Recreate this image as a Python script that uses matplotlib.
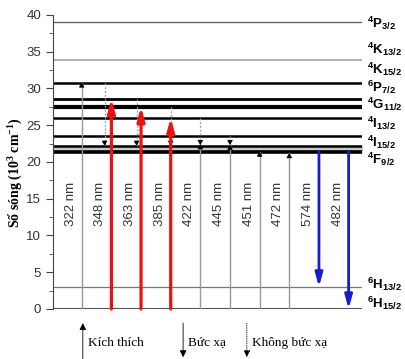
import matplotlib
matplotlib.use('Agg')
import matplotlib.pyplot as plt

plt.rcParams['mathtext.fontset'] = 'custom'
plt.rcParams['mathtext.rm'] = 'Liberation Serif:bold'
plt.rcParams['mathtext.sf'] = 'Liberation Sans:bold'

# energy levels of Dy3+ (10^3 cm^-1)
level_names = [r'$\mathsf{^4P_{3/2}}$', r'$\mathsf{^4K_{13/2}}$', r'$\mathsf{^4K_{15/2}}$',
               r'$\mathsf{^6P_{7/2}}$', r'$\mathsf{^4G_{11/2}}$', r'$\mathsf{^4I_{13/2}}$',
               r'$\mathsf{^4I_{15/2}}$', r'$\mathsf{^4F_{9/2}}$',
               r'$\mathsf{^6H_{13/2}}$', r'$\mathsf{^6H_{15/2}}$']
level_values = [39.0, 33.9, 30.8, 28.6, 27.5, 26.0, 23.5, 22.2, 21.4, 3.0, 0.0]

# transitions
wavelengths = ['322 nm', '348 nm', '363 nm', '385 nm', '422 nm',
               '445 nm', '451 nm', '472 nm', '574 nm', '482 nm']
kinds = ['exc', 'red', 'red', 'red', 'exc', 'exc', 'exc', 'exc', 'emi', 'emi']
starts = [0, 0, 0, 0, 0, 0, 0, 0, 21.4, 21.4]
ends = [30.8, 28.6, 27.5, 26.0, 22.4, 22.3, 21.4, 21.2, 3.0, 0.0]

# non radiative relaxation: (transition index, from level, to level)
nr_index = [1, 2, 3, 4, 5]
nr_from = [30.8, 28.6, 27.5, 26.0, 23.5]
nr_to = [22.2, 22.2, 22.2, 22.3, 22.3]

# styles
lvl_colors = ['#666666', '#aaaaaa', 'k', 'k', 'k', 'k', 'k', 'k', 'k', '#777777', '#555555']
lvl_widths = [1.0, 1.3, 1.8, 2.0, 3.0, 1.8, 1.8, 1.8, 2.6, 0.9, 1.5]
label_y = [38.9, 35.3, 32.6, 30.1, 27.8, 25.3, 22.6, 20.3, 3.3, 0.8]
nr_offset = [-0.23, -0.15, 0, 0, 0]

fig = plt.figure(figsize=(4.06, 3.59), dpi=100)
ax = fig.add_axes([0.1305, 0.1393, 0.761, 0.8193])
ax.set_xlim(-0.97, 9.45)
ax.set_ylim(0, 40)

ax.fill_between([-0.97, 9.45], level_values[8], level_values[7], color='#c8c8c8', zorder=1)
for v, c, w in zip(level_values, lvl_colors, lvl_widths):
    ax.axhline(v, color=c, lw=w, zorder=2)

small = dict(arrowstyle='-|>,head_length=0.5,head_width=0.3', color='k', lw=0.8,
             mutation_scale=5, shrinkA=0, shrinkB=0)

for i, (lab, k, s, e) in enumerate(zip(wavelengths, kinds, starts, ends)):
    ax.text(i - 0.37, 14.3, lab, rotation=90, ha='center', va='center',
            fontsize=9.5, family='Liberation Sans', color='#333333')
    if k == 'exc':
        ax.plot([i, i], [s, e], color='#999999', lw=1.0, zorder=3)
        ax.annotate('', xy=(i, e), xytext=(i, e - 0.6), arrowprops=small, zorder=5)
    elif k == 'red':
        ax.annotate('', xy=(i, e), xytext=(i, s),
                    arrowprops=dict(arrowstyle='-|>,head_length=0.8,head_width=0.22',
                                    color='#ee1111', lw=2.3, mutation_scale=10,
                                    shrinkA=0, shrinkB=0), zorder=6)
    else:
        ax.annotate('', xy=(i, e), xytext=(i, s),
                    arrowprops=dict(arrowstyle='-|>,head_length=0.8,head_width=0.22',
                                    color='#1a1adb', lw=2.0, mutation_scale=10,
                                    shrinkA=0, shrinkB=0), zorder=6)

for idx, f, t, off in zip(nr_index, nr_from, nr_to, nr_offset):
    x = idx + off
    ax.plot([x, x], [f, t], color='#999999', lw=0.9, ls=(0, (1.5, 1.5)), zorder=4)
    ax.annotate('', xy=(x, t), xytext=(x, t + 0.6), arrowprops=small, zorder=5)

for name, y in zip(level_names, label_y):
    ax.text(9.62, y, name, ha='left', va='center', fontsize=9.5)

for sp in ['top', 'right', 'bottom']:
    ax.spines[sp].set_visible(False)
ax.spines['left'].set_color('#444444')
ax.set_xticks([])
ax.set_yticks(range(0, 41, 5))
ax.set_yticks([2.5 + 5 * i for i in range(8)], minor=True)
ax.tick_params(axis='y', which='major', length=5, color='#444444', labelcolor='#333333',
               labelsize=9.5)
ax.tick_params(axis='y', which='minor', length=3, color='#444444')
for t in ax.get_yticklabels():
    t.set_family('Liberation Sans')

fig.text(0.035, 0.52, r'Số sóng (10$^{3}$ cm$^{-1}$)', rotation=90, ha='center', va='center',
         fontsize=10, family='Liberation Serif', weight='bold')

# legend below the chart
leg_x = [0.204, 0.451, 0.608]
leg_text = ['Kích thích', 'Bức xạ', 'Không bức xạ']
for j, (x, txt) in enumerate(zip(leg_x, leg_text)):
    if j == 0:
        a, b, ls = (x, 0.0), (x, 0.10), '-'
    else:
        a, b, ls = (x, 0.10), (x, 0.005), '-' if j == 1 else ':'
    fig.add_artist(matplotlib.patches.FancyArrowPatch(
        a, b, transform=fig.transFigure, arrowstyle='-|>,head_length=0.5,head_width=0.25',
        mutation_scale=8, color='k', lw=0.6, linestyle=ls, shrinkA=0, shrinkB=0))
    fig.text(x + 0.013, 0.045, txt, fontsize=9.5, family='Liberation Serif', va='center')

fig.savefig('out.png', dpi=100)
